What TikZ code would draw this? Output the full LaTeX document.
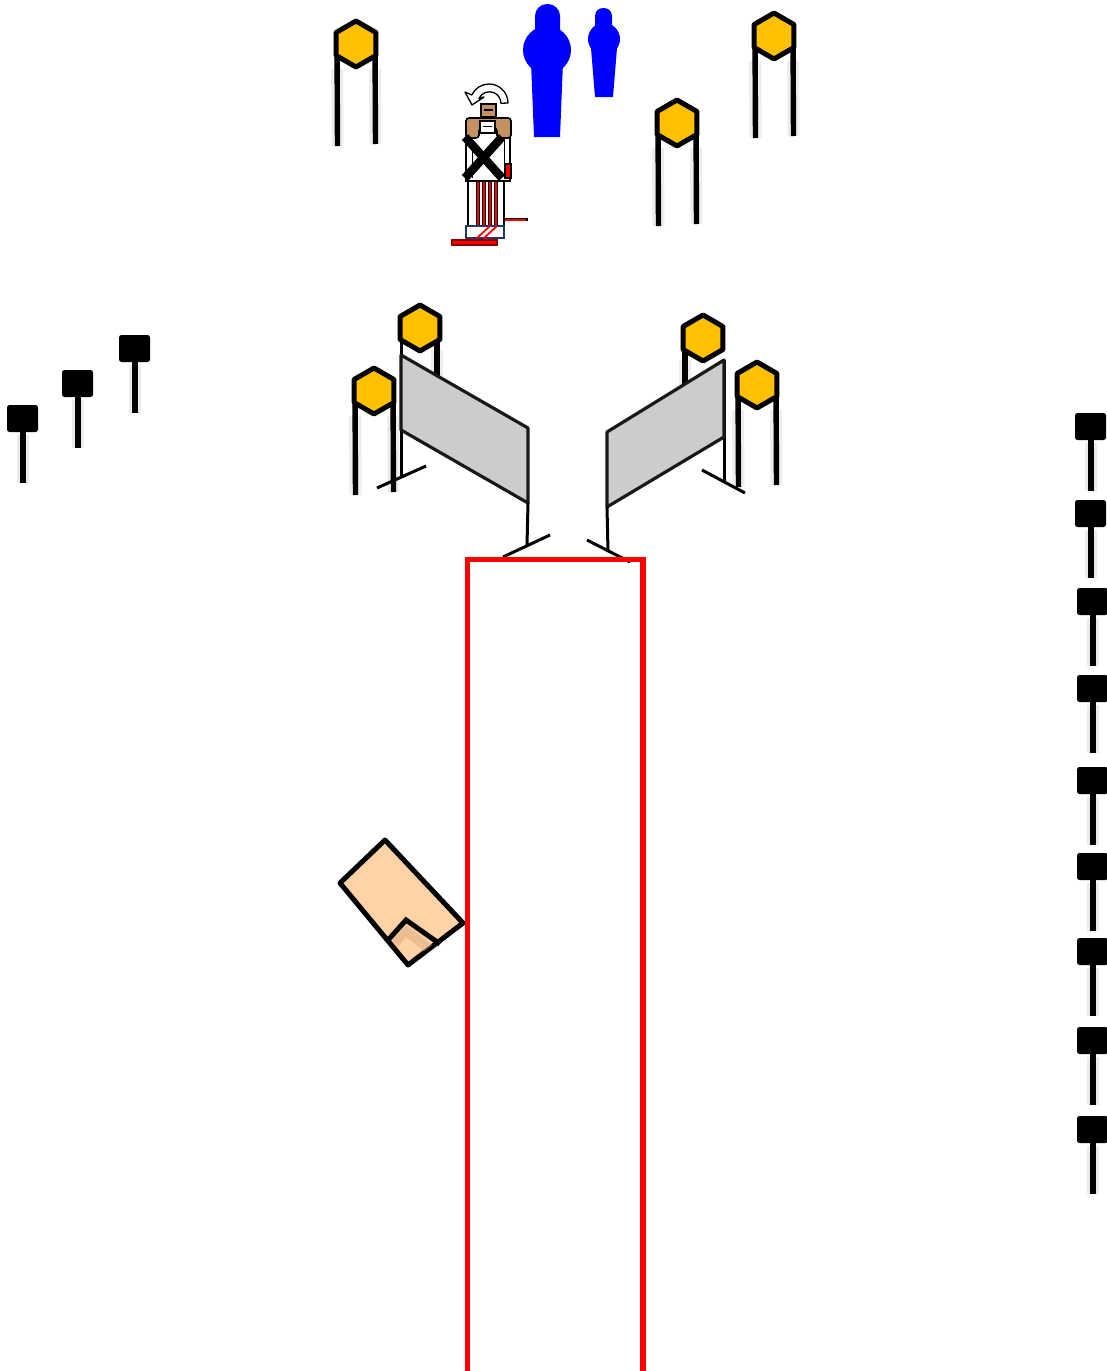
\documentclass[tikz,border=0pt]{standalone}
\usepackage{tikz}
\definecolor{signyellow}{RGB}{255,192,0}
\definecolor{panelgray}{RGB}{204,204,204}
\definecolor{peach}{RGB}{255,211,166}
\definecolor{peachshade}{RGB}{222,176,132}
\definecolor{tan}{RGB}{196,146,98}
\definecolor{navy}{RGB}{31,56,100}
\definecolor{pureblue}{RGB}{0,0,255}
\tikzset{
  leg/.style={line width=5.4pt},
  halo/.style={line width=12pt, black!7},
  hexsign/.style={fill=signyellow, draw=black, line width=5pt, line join=round},
  post/.style={line width=3pt},
  panel/.style={fill=panelgray, draw=black!90, line width=3.2pt, line join=round},
  lane/.style={draw=red, line width=5.2pt},
  marker/.style={fill=black, rounded corners=2.5pt},
  pole/.style={line width=5.4pt},
  polehalo/.style={line width=12pt, black!8},
}
% hexagonal sign on two legs: centre x, centre y, bottom of left leg, bottom of right leg
\newcommand\hexpost[4]{%
  \draw[halo] (#1-19,#2+25) -- (#1-18.5,#3);
  \draw[halo] (#1+19,#2+25) -- (#1+19.5,#4);
  \draw[leg] (#1-19,#2) -- (#1-18.5,#3);
  \draw[leg] (#1+19,#2) -- (#1+19.5,#4);
  \draw[hexsign] (#1,#2-23) -- ++(-19.9,11.5) -- ++(0,23) -- ++(19.9,11.5)
    -- ++(19.9,-11.5) -- ++(0,-23) -- cycle;}
% hexagon alone
\newcommand\hexhead[2]{%
  \draw[hexsign] (#1,#2-23) -- ++(-19.9,11.5) -- ++(0,23) -- ++(19.9,11.5)
    -- ++(19.9,-11.5) -- ++(0,-23) -- cycle;}
% small square marker on a pole: left x, top y
\newcommand\marksign[2]{%
  \draw[polehalo] (#1+16,#2+30) -- (#1+16,#2+78);
  \draw[pole] (#1+16,#2+20) -- (#1+16,#2+78);
  \fill[marker] (#1,#2) rectangle (#1+31,#2+27);}
\begin{document}
\begin{tikzpicture}[x=1pt,y=-1pt]
\useasboundingbox (0,0) rectangle (1107,1371);
\fill[white] (0,0) rectangle (1107,1371);

% ---- free-standing hex signs at the far end
\hexpost{356}{44}{146}{144}
\hexpost{774}{36}{138}{136}
\hexpost{677}{123}{226}{224}

% ---- blue silhouettes
\fill[pureblue, rounded corners=12pt] (535,4) rectangle (560,70);
\fill[pureblue] (547,50) circle (24);
\fill[pureblue] (531,62) -- (563,62) -- (560,137) -- (534,137) -- cycle;
\fill[pureblue, rounded corners=8pt] (595,8) rectangle (612,50);
\fill[pureblue] (604,39) circle (16);
\fill[pureblue] (591,48) -- (617,48) -- (613,97) -- (595,97) -- cycle;

% ---- turning target with its stand
% rotation arrow
\draw[fill=white, line width=1.3pt, line join=round]
  (508,103) arc[start angle=0, end angle=-155, radius=19]
  -- (465,92) -- (472,105) -- (484,97) -- (479,98.4)
  arc[start angle=-155, end angle=0, radius=11.5] -- cycle;
% stand
\draw[line width=2.2pt] (468,180) -- (468,236);
\draw[line width=2.2pt] (504,180) -- (504,236);
\foreach \xx in {478,484,490,496}{
  \draw[line width=3.2pt] (\xx,182) -- (\xx,226);
  \draw[red, line width=1.5pt] (\xx,182) -- (\xx,226);}
\draw[line width=3.4pt] (503,219.5) -- (528,219.5);
\draw[red, line width=1.2pt] (505,220) -- (526,220);
\draw[navy, fill=white, line width=2.2pt] (466,226) rectangle (504,238);
\draw[red, line width=1.8pt] (477,238) -- (490,226);
\draw[red, line width=1.8pt] (484,238) -- (497,226);
\draw[fill=red, draw=red!55!black, line width=1.3pt] (452,240) rectangle (497,245);
% body
\draw[fill=white, line width=2pt] (466,128) rectangle (510,181);
\draw[line width=1pt] (472,132) -- (472,178) (504,132) -- (504,178);
\draw[fill=red, line width=1.3pt] (505,164) rectangle (511,178);
\draw[fill=tan, line width=1.6pt, rounded corners=3pt] (466,138) -- (466,118) -- (511,118) -- (511,138) -- (497,138) -- (497,128) -- (479,128) -- (479,138) -- cycle;
\draw[fill=white, line width=1.3pt] (480,121) rectangle (495,133);
\draw[line width=1pt] (483,126) -- (492,126);
\draw[fill=tan, line width=1.6pt] (481,104) rectangle (496,117);
\draw[line width=1.3pt] (484,110) -- (493,110);
\draw[line width=8.5pt] (465,137) -- (502,178) (502,137) -- (465,178);

% ---- left barrier with its signs
\hexpost{374}{391}{495}{492}
\draw[halo] (437,350) -- (437,376);
\draw[leg] (437,330) -- (437,400);
\draw[post] (401,340) -- (401,478);
\draw[post] (377,488) -- (426,466);
\draw[panel] (401,355) -- (528,428) -- (528,503) -- (401,430) -- cycle;
\draw[post] (528,503) -- (527,545);
\draw[post] (503,557) -- (550,535);
\hexhead{420}{328}

% ---- right barrier with its signs
\hexpost{757}{385}{487}{485}
\draw[halo] (685,360) -- (685,385);
\draw[leg] (685,340) -- (685,400);
\draw[post] (724,360) -- (724,481);
\draw[post] (702,470) -- (745,493);
\draw[panel] (607,432) -- (724,360) -- (724,437) -- (607,507) -- cycle;
\draw[post] (607,507) -- (608,552);
\draw[post] (587,540) -- (630,562);
\hexhead{703}{338}

% ---- lane
\draw[lane] (467.5,1380) -- (467.5,559.5) -- (643,559.5) -- (643,1380);

% ---- folded box beside the lane
\draw[fill=peach, line width=5pt, line join=round]
  (385,840) -- (340,883) -- (408,965) -- (463,923) -- cycle;
\fill[peachshade, opacity=0.55] (392,941) -- (406,925) -- (432,945) -- (424,951) -- (406,937) -- (398,947) -- cycle;
\draw[line width=5pt, line join=miter] (389,939) -- (406,920) -- (440,944);

% ---- markers on the left
\marksign{7}{405}
\marksign{62}{370}
\marksign{119}{335}

% ---- markers on the right edge
\marksign{1075}{413}
\marksign{1075}{500}
\marksign{1077}{588}
\marksign{1077}{675}
\marksign{1077}{767}
\marksign{1077}{853}
\marksign{1077}{938}
\marksign{1077}{1027}
\marksign{1077}{1116}
\end{tikzpicture}
\end{document}
